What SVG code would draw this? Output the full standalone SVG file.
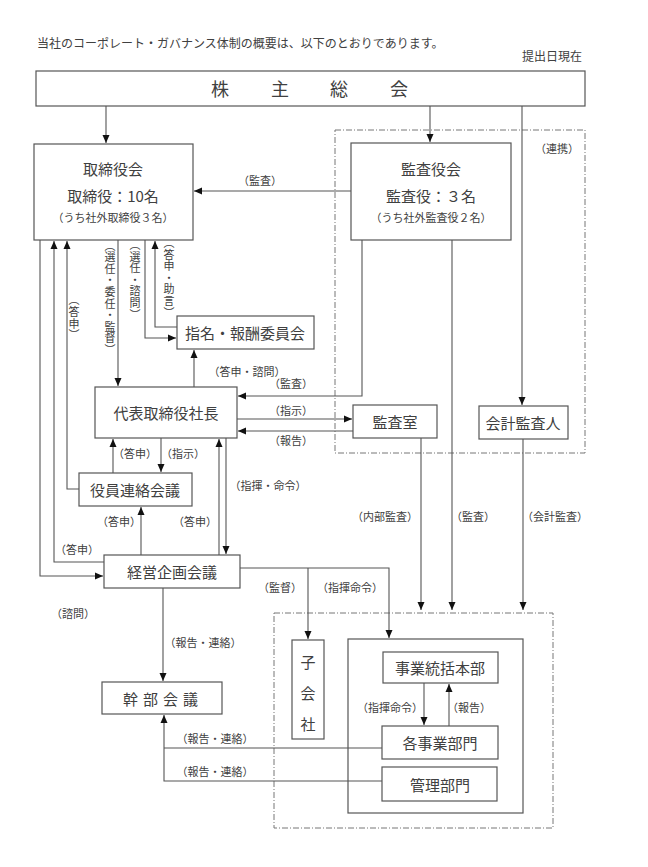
<svg xmlns="http://www.w3.org/2000/svg" width="648" height="867" viewBox="0 0 648 867">
<defs>
<marker id="ah" markerUnits="userSpaceOnUse" markerWidth="8" markerHeight="8" refX="8" refY="4" orient="auto">
<path d="M0,0.5 L8,4 L0,7.5 z" fill="#111"/>
</marker>
<style>
text{font-family:"Noto Sans CJK JP","Noto Sans",sans-serif;fill:#404040;dominant-baseline:central}
.box{fill:#fff;stroke:#555;stroke-width:1.2}
.dd{fill:none;stroke:#777;stroke-width:1;stroke-dasharray:6 2 1 2}
.n{font-size:15px;text-anchor:middle}
.s{font-size:11px;text-anchor:middle}
.l{font-size:11px;text-anchor:middle}
.v{font-size:11px;text-anchor:middle;writing-mode:vertical-rl;letter-spacing:0.6px}
.c path{fill:none;stroke:#555;stroke-width:1.1}
.c path.a{marker-end:url(#ah)}
</style>
</defs>
<rect width="648" height="867" fill="#fff"/>
<text x="37" y="42" style="font-size:12px">当社のコーポレート・ガバナンス体制の概要は、以下のとおりであります。</text>
<text x="582" y="55" style="font-size:12px;text-anchor:end">提出日現在</text>

<rect class="dd" x="335" y="130" width="250" height="323"/>
<rect class="dd" x="274" y="613" width="279" height="215"/>

<g id="shareholders">
<rect class="box" x="36" y="71" width="549" height="35"/>
<text x="220" y="88" style="font-size:18px;text-anchor:middle">株</text>
<text x="280" y="88" style="font-size:18px;text-anchor:middle">主</text>
<text x="339" y="88" style="font-size:18px;text-anchor:middle">総</text>
<text x="399" y="88" style="font-size:18px;text-anchor:middle">会</text>
</g>
<g id="board">
<rect class="box" x="34" y="144" width="159" height="96"/>
<text class="n" x="113" y="168">取締役会</text>
<text class="n" x="113" y="195">取締役：10名</text>
<text class="s" x="113" y="217">（うち社外取締役３名）</text>
</g>
<g id="auditboard">
<rect class="box" x="351" y="143" width="160" height="97"/>
<text class="n" x="431" y="168">監査役会</text>
<text class="n" x="431" y="195">監査役：３名</text>
<text class="s" x="431" y="217">（うち社外監査役２名）</text>
</g>
<g id="nomination">
<rect class="box" x="177" y="316" width="137" height="33"/>
<text class="n" x="245" y="332">指名・報酬委員会</text>
</g>
<g id="president">
<rect class="box" x="95" y="387" width="142" height="51"/>
<text class="n" x="166" y="412">代表取締役社長</text>
</g>
<g id="auditoffice">
<rect class="box" x="353" y="405" width="84" height="33"/>
<text class="n" x="395" y="421">監査室</text>
</g>
<g id="accountant">
<rect class="box" x="479" y="406" width="89" height="33"/>
<text class="n" x="523" y="422">会計監査人</text>
</g>
<g id="officers">
<rect class="box" x="79" y="473" width="113" height="33"/>
<text class="n" x="135" y="489">役員連絡会議</text>
</g>
<g id="planning">
<rect class="box" x="104" y="555" width="136" height="33"/>
<text class="n" x="172" y="571">経営企画会議</text>
</g>
<g id="executive">
<rect class="box" x="102" y="682" width="120" height="32"/>
<text class="n" x="163" y="698" style="letter-spacing:5px">幹部会議</text>
</g>
<g id="subsidiary">
<rect class="box" x="292" y="640" width="32" height="99"/>
<text class="n" x="308" y="661">子</text>
<text class="n" x="308" y="692">会</text>
<text class="n" x="308" y="723">社</text>
</g>
<g id="business">
<rect class="box" x="348" y="639" width="175" height="174"/>
</g>
<g id="hq">
<rect class="box" x="383" y="652" width="115" height="31"/>
<text class="n" x="440" y="667">事業統括本部</text>
</g>
<g id="divisions">
<rect class="box" x="382" y="726" width="116" height="33"/>
<text class="n" x="440" y="742">各事業部門</text>
</g>
<g id="admin">
<rect class="box" x="382" y="767" width="115" height="34"/>
<text class="n" x="440" y="784">管理部門</text>
</g>

<g id="connectors" class="c">
<path class="a" d="M106,106 V143"/>
<path class="a" d="M430,106 V142"/>
<path class="a" d="M522,106 V405"/>
<path class="a" d="M351,191 H194"/>
<path class="a" d="M40,240 V576 H103"/>
<path class="a" d="M104,562 H54 V241"/>
<path class="a" d="M79,489 H67 V241"/>
<path class="a" d="M118,240 V386"/>
<path class="a" d="M145,240 V338 H176"/>
<path class="a" d="M177,327 H155 V241"/>
<path class="a" d="M194,387 V350"/>
<path class="a" d="M362,240 V396 H238"/>
<path class="a" d="M237,419 H352"/>
<path class="a" d="M353,431 H238"/>
<path class="a" d="M113,473 V439"/>
<path class="a" d="M161,438 V472"/>
<path class="a" d="M141,555 V507"/>
<path class="a" d="M219,555 V439"/>
<path class="a" d="M226,438 V554"/>
<path class="a" d="M240,568 H389 V638"/>
<path class="a" d="M308,568 V639"/>
<path class="a" d="M421,438 V610"/>
<path class="a" d="M452,240 V610"/>
<path class="a" d="M523,439 V610"/>
<path class="a" d="M163,588 V681"/>
<path d="M382,748 H164"/>
<path class="a" d="M382,781 H164 V715"/>
<path class="a" d="M424,683 V725"/>
<path class="a" d="M449,726 V684"/>
</g>

<g id="labels">
<text class="l" x="260" y="180">（監査）</text>
<text class="l" x="557" y="148">（連携）</text>
<text class="v" x="110" y="298">（選任・委任・監督）</text>
<text class="v" x="135" y="280">（選任・諮問）</text>
<text class="v" x="169" y="278">（答申・助言）</text>
<text class="v" x="74" y="318">（答申）</text>
<text class="l" x="247" y="371">（答申・諮問）</text>
<text class="l" x="291" y="383">（監査）</text>
<text class="l" x="291" y="410">（指示）</text>
<text class="l" x="291" y="440">（報告）</text>
<text class="l" x="135" y="453">（答申）</text>
<text class="l" x="183" y="453">（指示）</text>
<text class="l" x="268" y="485">（指揮・命令）</text>
<text class="l" x="119" y="521">（答申）</text>
<text class="l" x="195" y="521">（答申）</text>
<text class="l" x="77" y="549">（答申）</text>
<text class="l" x="385" y="516">（内部監査）</text>
<text class="l" x="473" y="516">（監査）</text>
<text class="l" x="555" y="516">（会計監査）</text>
<text class="l" x="280" y="587">（監督）</text>
<text class="l" x="350" y="587">（指揮命令）</text>
<text class="l" x="73" y="613">（諮問）</text>
<text class="l" x="203" y="642">（報告・連絡）</text>
<text class="l" x="390" y="707">（指揮命令）</text>
<text class="l" x="469" y="707">（報告）</text>
<text class="l" x="215" y="738">（報告・連絡）</text>
<text class="l" x="215" y="771">（報告・連絡）</text>
</g>
</svg>
